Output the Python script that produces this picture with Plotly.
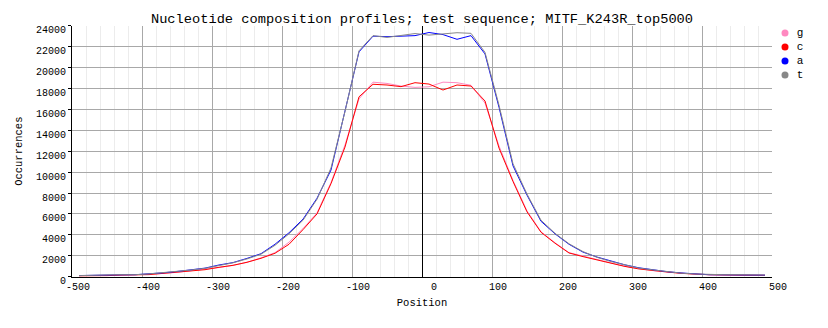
import plotly.graph_objects as go

positions = list(range(-490, 491, 20))

g_vals = [90, 90, 110, 150, 180, 210, 310, 420, 560, 680,
          880, 1080, 1380, 1800, 2300, 3300, 4600, 6100, 9000, 12600,
          17000, 18600, 18480, 18230, 18100, 18160, 18600, 18550, 18300, 16600,
          12500, 9200, 6300, 4300, 3250, 2300, 1950, 1620, 1320, 1000,
          760, 580, 460, 330, 230, 190, 180, 160, 130, 130]
c_vals = [80, 80, 100, 160, 180, 200, 320, 420, 580, 670,
          900, 1090, 1380, 1760, 2240, 3100, 4500, 6000, 8900, 12400,
          17200, 18400, 18330, 18170, 18550, 18420, 17850, 18330, 18230, 16800,
          12300, 9100, 6200, 4250, 3200, 2270, 1920, 1600, 1300, 980,
          740, 570, 450, 320, 220, 190, 170, 150, 130, 130]
a_vals = [110, 110, 150, 180, 190, 260, 370, 500, 660, 820,
          1120, 1350, 1750, 2200, 3100, 4200, 5500, 7500, 10200, 15900,
          21500, 23000, 22950, 23000, 23050, 23350, 23150, 22700, 23050, 21300,
          16200, 10600, 7800, 5300, 4100, 3100, 2350, 1880, 1480, 1130,
          850, 640, 480, 360, 250, 190, 180, 170, 160, 150]
t_vals = [100, 100, 170, 190, 190, 270, 380, 500, 640, 800,
          1060, 1330, 1700, 2150, 3000, 4100, 5400, 7400, 10400, 15800,
          21600, 23050, 22880, 23100, 23250, 23100, 23200, 23330, 23270, 21450,
          16400, 10800, 7900, 5400, 4150, 3150, 2400, 1850, 1450, 1100,
          820, 650, 470, 340, 260, 190, 190, 190, 170, 160]

series_names = ["g", "c", "a", "t"]
series_vals = [g_vals, c_vals, a_vals, t_vals]
series_colors = ["#ff88c0", "#ff0000", "#0000ff", "#888888"]

x_tick_vals = list(range(-500, 501, 100))
x_tick_text = ["-500", "-400", "-300", "-200", "-100", "\u00a0\u00a00", "100", "200", "300", "400", "500"]
y_tick_vals = list(range(0, 24001, 2000))
y_tick_text = [str(v) for v in y_tick_vals]

FONT = "Liberation Mono, DejaVu Sans Mono, monospace"
W, H = 828, 328
PL, PR, PT, PB = 72, 772, 25.7, 276.7

fig = go.Figure()
for name, vals, col in zip(series_names, series_vals, series_colors):
    fig.add_trace(go.Scatter(x=positions, y=vals, mode="lines", name=name,
                             line=dict(color=col, width=1), showlegend=False,
                             hoverinfo="skip", xaxis="x", yaxis="y"))

# legend drawn in its own small axes
legend_idx = list(range(len(series_names)))
fig.add_trace(go.Scatter(x=[5] * len(series_names), y=legend_idx, mode="markers",
                         marker=dict(color=series_colors, size=7, symbol="circle"),
                         showlegend=False, hoverinfo="skip", xaxis="x2", yaxis="y2"))
fig.add_trace(go.Scatter(x=[20] * len(series_names), y=legend_idx, mode="text",
                         text=series_names, textposition="middle center",
                         textfont=dict(family=FONT, size=11, color="black"),
                         showlegend=False, hoverinfo="skip", xaxis="x2", yaxis="y2"))

fig.update_layout(
    width=W, height=H,
    margin=dict(l=0, r=0, t=0, b=0, pad=0, autoexpand=False),
    paper_bgcolor="white", plot_bgcolor="white",
    title=dict(text="Nucleotide composition profiles; test sequence; MITF_K243R_top5000",
               x=(PL + PR) / 2 / W, xref="paper", xanchor="center",
               y=1 - 18 / H, yref="paper", yanchor="middle",
               font=dict(family=FONT, size=13.7, color="black")),
    font=dict(family=FONT, size=10, color="black"),
    showlegend=False,
    xaxis=dict(
        domain=[PL / W, PR / W], automargin=False,
        range=[-500, 500], tickvals=x_tick_vals, ticktext=x_tick_text,
        ticklabelshift=6, ticks="", showgrid=True, gridcolor="#a8a8a8", gridwidth=1,
        minor=dict(dtick=20, showgrid=True, gridcolor="#ececec", gridwidth=1, ticks=""),
        showline=True, linecolor="black", linewidth=1,
        zeroline=True, zerolinecolor="black", zerolinewidth=1,
        title=dict(text="Position", font=dict(family=FONT, size=10.5), standoff=6),
        tickfont=dict(family=FONT, size=10),
    ),
    yaxis=dict(
        domain=[1 - PB / H, 1 - PT / H], automargin=False,
        range=[0, 24000], tickvals=y_tick_vals, ticktext=y_tick_text,
        ticks="outside", ticklen=3, tickcolor="black", ticklabelshift=4,
        showgrid=True, gridcolor="#a8a8a8", gridwidth=1,
        showline=True, linecolor="black", linewidth=1, zeroline=False,
        title=dict(text="Occurrences", font=dict(family=FONT, size=10.5), standoff=11),
        tickfont=dict(family=FONT, size=10),
    ),
    xaxis2=dict(domain=[780 / W, 810 / W], range=[0, 30], visible=False,
                showgrid=False, zeroline=False, fixedrange=True, anchor="y2"),
    yaxis2=dict(domain=[1 - 82 / H, 1 - 26 / H], range=[3.5, -0.5], visible=False,
                showgrid=False, zeroline=False, fixedrange=True, anchor="x2"),
)

fig.write_html("out.html")
